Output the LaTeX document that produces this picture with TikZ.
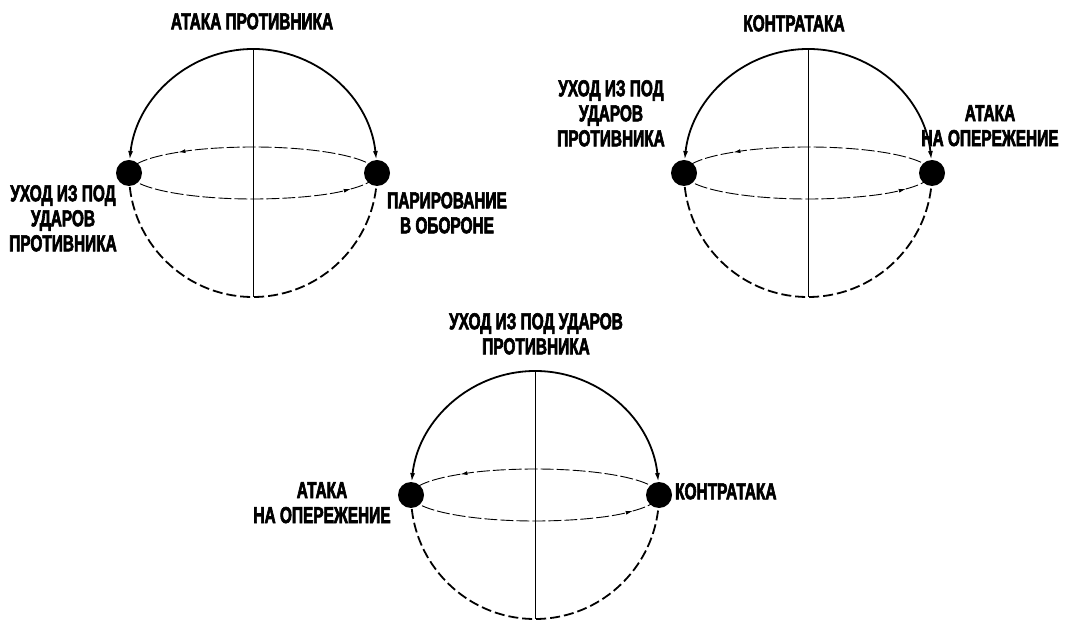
\documentclass[tikz,border=0pt]{standalone}
\usepackage{fontspec}
\newfontfamily\labfont{Liberation Sans Bold}[FakeStretch=0.67, FakeBold=2.6]
\usetikzlibrary{arrows.meta,calc}
\newcommand\sphereunit[2]{%
  \coordinate (#1c) at #2;
  \node[dotnode] (#1L) at ($(#1c)+(-124,0)$) {};
  \node[dotnode] (#1R) at ($(#1c)+(124,0)$) {};
  \draw[axisline] ($(#1c)+(0,124)$) -- ($(#1c)+(0,-124)$);
  \draw[dasharc] (#1L) arc[start angle=180,end angle=360,radius=124];
  \draw[solidarc] ($(#1c)+(6:124)$) arc[start angle=6,end angle=174,radius=124];
  \draw[orbitline,-{Latex[length=7pt,width=4pt]}] (#1R) arc[start angle=0,end angle=127,x radius=124,y radius=26];
  \draw[orbitline] ($(#1c)+(127:124 and 26)$) arc[start angle=127,end angle=180,x radius=124,y radius=26];
  \draw[orbitline,-{Latex[length=7pt,width=4pt]}] (#1L) arc[start angle=180,end angle=322,x radius=124,y radius=26];
  \draw[orbitline] ($(#1c)+(322:124 and 26)$) arc[start angle=322,end angle=360,x radius=124,y radius=26];
}
\begin{document}
\begin{tikzpicture}[x=1pt,y=1pt,
  lbl/.style={font=\labfont\fontsize{23}{25}\selectfont, align=center, inner sep=0pt, anchor=north},
  dotnode/.style={circle, fill=black, minimum size=26pt, inner sep=0pt},
  solidarc/.style={line width=1.8pt, {Latex[length=9pt,width=5pt]}-{Latex[length=9pt,width=5pt]}},
  dasharc/.style={line width=1.8pt, dash pattern=on 10pt off 4pt},
  orbitline/.style={line width=0.9pt, dash pattern=on 13pt off 3pt},
  axisline/.style={line width=0.9pt}]
\useasboundingbox (0,0) rectangle (1091,621);
\sphereunit{a}{(253,448)}
\sphereunit{b}{(808,448)}
\sphereunit{d}{(535,126)}
\node[lbl] (t1) at (252,608) {АТАКА ПРОТИВНИКА};
\node[lbl] (l1) at (63,436) {УХОД ИЗ ПОД\\УДАРОВ\\ПРОТИВНИКА};
\node[lbl] (r1) at (447,429) {ПАРИРОВАНИЕ\\В ОБОРОНЕ};
\node[lbl] (t2) at (794,606) {КОНТРАТАКА};
\node[lbl] (l2) at (611,541) {УХОД ИЗ ПОД\\УДАРОВ\\ПРОТИВНИКА};
\node[lbl] (r2) at (990,516) {АТАКА\\НА ОПЕРЕЖЕНИЕ};
\node[lbl] (t3) at (536,308) {УХОД ИЗ ПОД УДАРОВ\\ПРОТИВНИКА};
\node[lbl] (l3) at (322,139) {АТАКА\\НА ОПЕРЕЖЕНИЕ};
\node[lbl,anchor=north west] (r3) at (675,138) {КОНТРАТАКА};
\end{tikzpicture}
\end{document}
